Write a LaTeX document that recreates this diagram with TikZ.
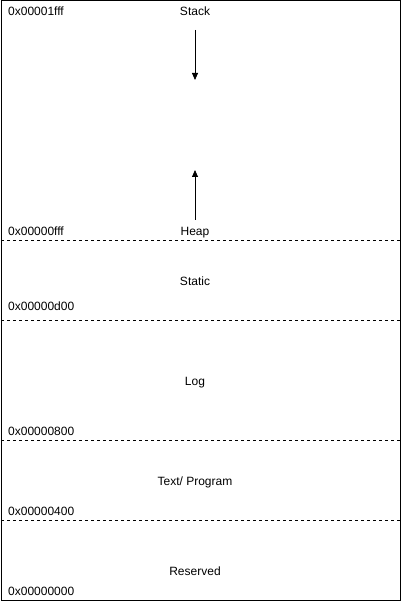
\documentclass[tikz,border=0pt]{standalone}
\usepackage{fontspec}
\setmainfont{Liberation Sans}
\usetikzlibrary{arrows.meta, positioning}

\tikzset{
  seglabel/.style={font=\fontsize{12}{14}\selectfont, inner sep=0pt, text height=8.6pt, text depth=0.5pt},
  addrlabel/.style={font=\fontsize{12}{14}\selectfont, inner sep=0pt, anchor=west, text height=8.6pt, text depth=0.5pt},
  divider/.style={dashed, line width=0.8pt},
  growth/.style={-{Triangle[length=7pt, width=6pt]}, line width=0.8pt}
}

\begin{document}
\begin{tikzpicture}[x=1pt, y=-1pt]
  \useasboundingbox (0,0) rectangle (402,601);
  % outer frame: (x,y) rectangle (x,y) in pixels
  \draw[line width=1pt] (1,1) rectangle (400.5,600);
  \draw[divider] (1,240) -- (400.5,240);
  \draw[divider] (1,320) -- (400.5,320);
  \draw[divider] (1,440) -- (400.5,440);
  \draw[divider] (1,520) -- (400.5,520);

  % segment names
  \node[seglabel] (stack)    at (195,11)  {Stack};
  \node[seglabel] (heap)     at (195,231) {Heap};
  \node[seglabel] (static)   at (195,281) {Static};
  \node[seglabel] (log)      at (195,381) {Log};
  \node[seglabel] (text)     at (195,481) {Text/ Program};
  \node[seglabel] (reserved) at (195,571) {Reserved};

  % addresses
  \node[addrlabel] (a1fff) at (8,11)  {0x00001fff};
  \node[addrlabel] (a0fff) at (8,231) {0x00000fff};
  \node[addrlabel] (a0d00) at (8,306) {0x00000d00};
  \node[addrlabel] (a0800) at (8,431) {0x00000800};
  \node[addrlabel] (a0400) at (8,511) {0x00000400};
  \node[addrlabel] (a0000) at (8,591) {0x00000000};

  % growth directions
  \coordinate (stackstart) at (195,30);
  \coordinate (stackend)   at (195,80);
  \coordinate (heapstart)  at (195,220);
  \coordinate (heapend)    at (195,170);
  \draw[growth] (stackstart) -- (stackend);
  \draw[growth] (heapstart) -- (heapend);
\end{tikzpicture}
\end{document}
